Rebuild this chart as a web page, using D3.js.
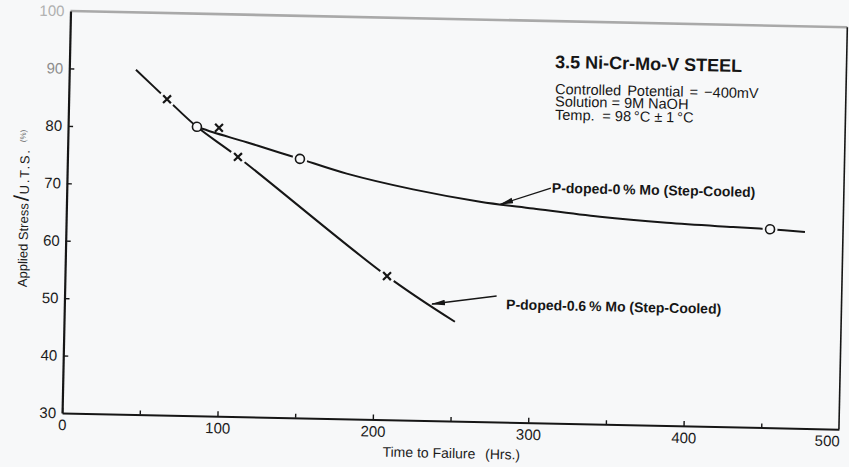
<!DOCTYPE html>
<html>
<head>
<meta charset="utf-8">
<script src="https://cdn.jsdelivr.net/npm/d3@7"></script>
<style>
  html, body { margin: 0; padding: 0; background: #f7f8f9; }
  svg { display: block; font-family: "Liberation Sans", Arial, Helvetica, sans-serif; }
</style>
</head>
<body>
<svg id="chart" width="849" height="467"></svg>
<script>
// ---- data ----
const timeTicks = [0, 100, 200, 300, 400, 500];
const timeMinorTicks = [50, 150, 250, 350, 450];
const stressTicks = [30, 40, 50, 60, 70, 80, 90, 100];

// P-doped-0% Mo (Step-Cooled): measured points (circles)
const mo0Time = [82.9, 149.6, 453.0];
const mo0Stress = [80.3, 75.1, 64.55];
// P-doped-0% Mo fitted curve
const mo0CurveTime = [82.9, 93.3, 115.1, 136.7, 149.6, 179.9, 222.8, 266.0, 300.3, 343.4, 386.4, 429.2, 453.0, 475.5];
const mo0CurveStress = [80.3, 79.4, 77.8, 76.1, 75.1, 72.7, 70.2, 68.3, 67.3, 66.1, 65.3, 64.8, 64.55, 64.2];

// P-doped-0.6% Mo (Step-Cooled): measured points (crosses)
const mo06Time = [63.3, 97.1, 109.7, 207.2];
const mo06Stress = [85.0, 80.2, 75.2, 55.0];
// P-doped-0.6% Mo fitted line
const mo06CurveTime = [42.9, 63.3, 82.9, 109.7, 207.2, 251.5];
const mo06CurveStress = [90.0, 85.0, 80.3, 75.2, 55.0, 47.3];

// arrow tips (data units) for the two labels
const arrow0Tip = [279, 67.9];
const arrow06Tip = [236.5, 50.3];

// ---- drawing ----
const bg = "#f7f8f9";
const svg = d3.select("#chart");
svg.append("rect").attr("width", 849).attr("height", 467).attr("fill", bg);

const g = svg.append("g").attr("transform", "rotate(1.2,450,230)");

const x = d3.scaleLinear().domain([0, 500]).range([66, 843]);
const y = d3.scaleLinear().domain([30, 100]).range([421, 19]);
const ink = "#161616";

// frame: top (faint) and right border
g.append("line").attr("x1", x(0)).attr("x2", x(500)).attr("y1", y(100)).attr("y2", y(100))
  .attr("stroke", "#a9a9a9").attr("stroke-width", 2.6);
g.append("line").attr("x1", x(500)).attr("x2", x(500)).attr("y1", y(100)).attr("y2", y(30))
  .attr("stroke", ink).attr("stroke-width", 1.6);

// x axis
const xAxis = d3.axisBottom(x).tickValues(timeTicks).tickSize(-5).tickSizeOuter(0).tickPadding(6.5)
  .tickFormat(d3.format("d"));
const gx = g.append("g").attr("transform", `translate(0,${y(30)})`).call(xAxis);
gx.selectAll(".tick line").attr("stroke", ink).attr("stroke-width", 1.4);
gx.selectAll(".tick").filter(d => d === 500).select("line").remove();
gx.selectAll(".tick").filter(d => d === 500).select("text").attr("dx", -12);
g.append("g").attr("transform", `translate(0,${y(30)})`)
  .call(d3.axisBottom(x).tickValues(timeMinorTicks).tickSize(-4).tickSizeOuter(0).tickFormat(""))
  .call(s => s.select(".domain").remove())
  .selectAll(".tick line").attr("stroke", ink).attr("stroke-width", 1.4);
gx.select(".domain").attr("stroke", ink).attr("stroke-width", 2);
gx.selectAll(".tick text").attr("font-size", 15).attr("fill", "#1c1c1c")
  .attr("font-family", "Liberation Sans, Arial, sans-serif");

// y axis
const yAxis = d3.axisLeft(y).tickValues(stressTicks).tickSize(-5).tickSizeOuter(0).tickPadding(6)
  .tickFormat(d3.format("d"));
const gy = g.append("g").attr("transform", `translate(${x(0)},0)`).call(yAxis);
gy.select(".domain").attr("stroke", ink).attr("stroke-width", 2.2);
gy.selectAll(".tick line").attr("stroke", ink).attr("stroke-width", 1.4);
gy.selectAll(".tick text").attr("font-size", 15)
  .attr("fill", d => d >= 100 ? "#b0b0b0" : (d >= 90 ? "#8d8d8d" : "#1c1c1c"))
  .attr("font-family", "Liberation Sans, Arial, sans-serif");
gy.selectAll(".tick").filter(d => d === 30 || d === 100).select("line").remove();

// axis titles
g.append("text")
  .attr("x", 456).attr("y", 458)
  .attr("text-anchor", "middle").attr("font-size", 14).attr("fill", "#1c1c1c")
  .text("Time to Failure\u2002\u2009(Hrs.)");

const yt = g.append("text")
  .attr("transform", "translate(28,296) rotate(-90)")
  .attr("font-size", 13).attr("fill", "#1c1c1c");
yt.append("tspan").text("Applied Stress");
yt.append("tspan").attr("font-size", 21).attr("dx", 2).text("/");
yt.append("tspan").attr("letter-spacing", 1.8).attr("dx", 1).text("U.T.S.");
yt.append("tspan").attr("font-size", 8).attr("dx", 6).attr("dy", -4).attr("fill", "#666").text("(%)");

// curves
const line = d3.line().x(d => x(d[0])).y(d => y(d[1])).curve(d3.curveCatmullRom.alpha(0.5));
const mo06Pts = mo06CurveTime.map((t, i) => [t, mo06CurveStress[i]]);
const mo0Pts = mo0CurveTime.map((t, i) => [t, mo0CurveStress[i]]);

g.append("path").attr("d", line(mo06Pts)).attr("fill", "none")
  .attr("stroke", ink).attr("stroke-width", 2);
// gaps in the 0.6% line around its markers
g.selectAll(".halo06").data(mo06Time.map((t, i) => [t, mo06Stress[i]])).enter()
  .append("circle").attr("cx", d => x(d[0])).attr("cy", d => y(d[1])).attr("r", 8.5)
  .attr("fill", bg);

g.append("path").attr("d", line(mo0Pts)).attr("fill", "none")
  .attr("stroke", ink).attr("stroke-width", 2);
g.selectAll(".halo0").data(mo0Time.map((t, i) => [t, mo0Stress[i]]).slice(1)).enter()
  .append("circle").attr("cx", d => x(d[0])).attr("cy", d => y(d[1])).attr("r", 7.5)
  .attr("fill", bg);

// markers
g.selectAll(".circ").data(mo0Time.map((t, i) => [t, mo0Stress[i]])).enter()
  .append("circle").attr("cx", d => x(d[0])).attr("cy", d => y(d[1])).attr("r", 4.5)
  .attr("fill", bg).attr("stroke", ink).attr("stroke-width", 1.6);
const cross = d3.symbol().type(d3.symbolX).size(42);
g.selectAll(".cross").data(mo06Time.map((t, i) => [t, mo06Stress[i]])).enter()
  .append("path").attr("d", cross)
  .attr("transform", d => `translate(${x(d[0])},${y(d[1])})`)
  .attr("fill", "none").attr("stroke", ink).attr("stroke-width", 2.2);

// arrows
const defs = svg.append("defs");
defs.append("marker").attr("id", "ah").attr("viewBox", "0 -4 14 8")
  .attr("refX", 13).attr("refY", 0).attr("markerWidth", 14).attr("markerHeight", 8)
  .attr("markerUnits", "userSpaceOnUse").attr("orient", "auto")
  .append("path").attr("d", "M0,-2.8L14,0L0,2.8Z").attr("fill", ink);

g.append("line").attr("x1", 550).attr("y1", 186).attr("x2", x(arrow0Tip[0])).attr("y2", y(arrow0Tip[1]))
  .attr("stroke", ink).attr("stroke-width", 1.4).attr("marker-end", "url(#ah)");
g.append("line").attr("x1", 498).attr("y1", 295).attr("x2", x(arrow06Tip[0])).attr("y2", y(arrow06Tip[1]))
  .attr("stroke", ink).attr("stroke-width", 1.4).attr("marker-end", "url(#ah)");

// labels
g.append("text").attr("x", 551).attr("y", 190.6).attr("font-size", 14).attr("font-weight", "bold")
  .attr("fill", ink).text("P-doped-0\u2009% Mo (Step-Cooled)");
g.append("text").attr("x", 507.7).attr("y", 308.1).attr("font-size", 14).attr("font-weight", "bold")
  .attr("fill", ink).text("P-doped-0.6\u2009% Mo (Step-Cooled)");

// title block
g.append("text").attr("x", 551.6).attr("y", 65.8).attr("font-size", 18).attr("font-weight", "bold")
  .attr("fill", ink).text("3.5 Ni-Cr-Mo-V STEEL");
const info = g.append("g").attr("font-size", 14.5).attr("fill", ink);
info.append("text").attr("x", 552.2).attr("y", 91.8).attr("word-spacing", 2)
  .text("Controlled Potential = \u2212400mV");
info.append("text").attr("x", 552.4).attr("y", 104.2).text("Solution = 9M NaOH");
info.append("text").attr("x", 552.7).attr("y", 117.5).text("Temp.");
info.append("text").attr("x", 600).attr("y", 117.5).text("= 98\u2009\u00b0C \u00b1 1\u2009\u00b0C");
</script>
</body>
</html>
